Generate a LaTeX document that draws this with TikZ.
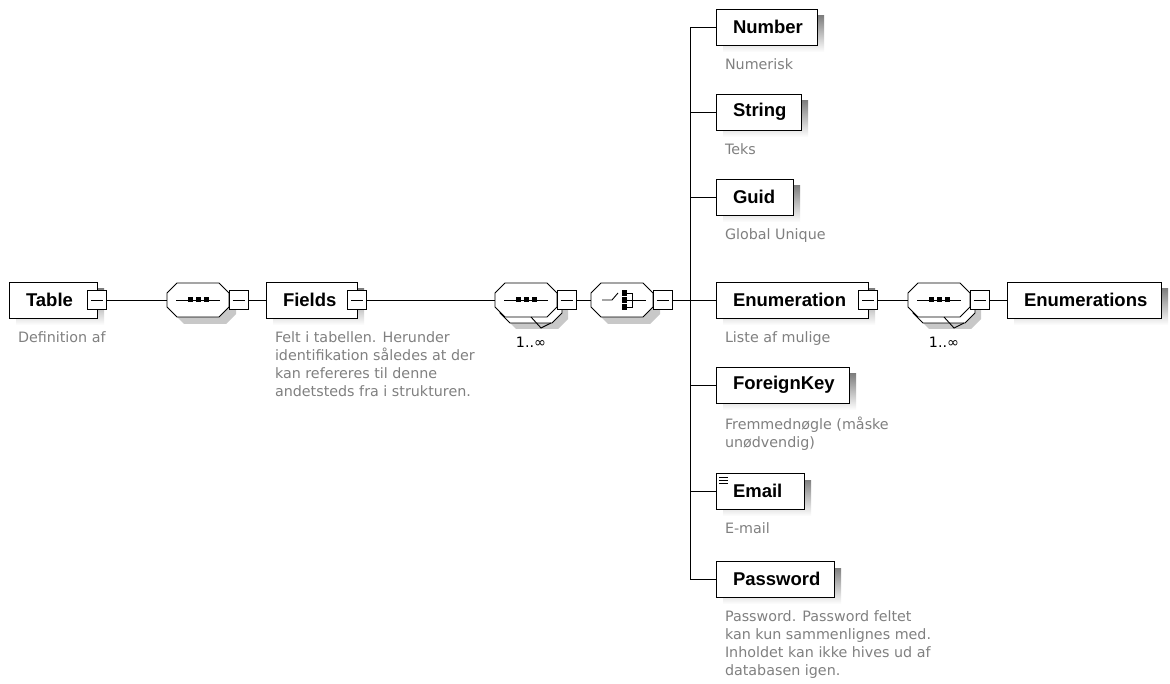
\documentclass[tikz,border=0pt]{standalone}
\usepackage{fontspec}
\newfontfamily\labelfont{Liberation Sans}
\newfontfamily\notefont{DejaVu Sans}
\definecolor{notegray}{RGB}{128,128,128}
\definecolor{shade}{RGB}{200,200,200}

% element box: node name, left x, right x, row y, label
\newcommand\xsdelement[5]{%
  \fill[shade] ({#2+7},{#4-11}) rectangle ({#3+7},{#4+25});
  \node[elembox, minimum width={#3-#2}] (#1) at ({(#2+#3)/2},#4) {};
  \node[elemtext] (#1-label) at ({#2+17},#4) {#5};
}
% octagon outline of a compositor: centre x, centre y, path options
\newcommand\xsdoct[3]{%
  \path[#3] ({#1-31},{#2-7}) -- ({#1-21},{#2-17}) -- ({#1+21},{#2-17})
    -- ({#1+31},{#2-7}) -- ({#1+31},{#2+7}) -- ({#1+21},{#2+17})
    -- ({#1-21},{#2+17}) -- ({#1-31},{#2+7}) -- cycle;
}
% sequence symbol
\newcommand\xsdseqicon[2]{%
  \draw ({#1-22},#2) -- ({#1+22},#2);
  \fill ({#1-10.5},{#2-2.5}) rectangle +(5,5);
  \fill ({#1-2.5},{#2-2.5}) rectangle +(5,5);
  \fill ({#1+5.5},{#2-2.5}) rectangle +(5,5);
}
% choice symbol
\newcommand\xsdchoiceicon[2]{%
  \draw ({#1-20},#2) -- ({#1-10},#2) -- ({#1-4},{#2-7});
  \fill ({#1-0.5},{#2-9.75}) rectangle +(5.5,5.5);
  \fill ({#1-0.5},{#2-2.75}) rectangle +(5.5,5.5);
  \fill ({#1-0.5},{#2+4.25}) rectangle +(5.5,5.5);
  \draw ({#1+5},{#2-7}) -- ({#1+10},{#2-7}) -- ({#1+10},{#2+7}) -- ({#1+5},{#2+7});
  \draw ({#1+5},#2) -- ({#1+24},#2);
}
% sequence compositor: name, centre x, centre y
\newcommand\xsdsequence[3]{%
  \xsdoct{#2+7}{#3+7}{fill=shade}
  \xsdoct{#2}{#3}{draw, fill=white}
  \node[compbox] (#1) at (#2,#3) {};
  \xsdseqicon{#2}{#3}
  \node[minusbox] (#1-m) at ({#2+40.5},#3) {};
}
% repeated sequence compositor (1..unbounded)
\newcommand\xsdrepsequence[3]{%
  \xsdoct{#2+11}{#3+12}{fill=shade}
  \xsdoct{#2+5}{#3+6}{draw, fill=white}
  \xsdoct{#2}{#3}{draw, fill=white}
  \draw ({#2+5},{#3+17}) -- ({#2+15},{#3+28}) -- ({#2+25},{#3+23});
  \node[compbox] (#1) at (#2,#3) {};
  \xsdseqicon{#2}{#3}
  \node[minusbox] (#1-m) at ({#2+40.5},#3) {};
  \node[occurs] (#1-occ) at ({#2+5},{#3+42}) {1..∞};
}
% choice compositor
\newcommand\xsdchoice[3]{%
  \xsdoct{#2+7}{#3+7}{fill=shade}
  \xsdoct{#2}{#3}{draw, fill=white}
  \node[compbox] (#1) at (#2,#3) {};
  \xsdchoiceicon{#2}{#3}
  \node[minusbox] (#1-m) at ({#2+40.5},#3) {};
}

\begin{document}
\begin{tikzpicture}[x=1pt, y=-1pt, line width=0.9pt,
  every node/.style={inner sep=0pt, outer sep=0pt},
  elembox/.style={draw, fill=white, rectangle, minimum height=36pt},
  elemtext/.style={font={\labelfont\bfseries\fontsize{18.5}{22}\selectfont}, anchor=west},
  note/.style={font={\notefont\fontsize{14.3}{18}\selectfont}, text=notegray, align=left, anchor=north west},
  occurs/.style={font={\notefont\fontsize{14.3}{18}\selectfont}},
  compbox/.style={rectangle, minimum width=62pt, minimum height=34pt},
  minusbox/.style={draw, fill=white, rectangle, minimum size=19pt,
    path picture={\draw[line width=0.9pt] ([xshift=3.5pt]path picture bounding box.west) -- ([xshift=-3.5pt]path picture bounding box.east);}},
  link/.style={draw, line width=0.9pt}]

\useasboundingbox[fill=white] (0,0) rectangle (1170,684);

% root element and its content model
\xsdelement{table}{9}{97}{300}{Table}
\node[minusbox] (table-m) at (97,300) {};
\node[note] (table-note) at ([shift={(9,14)}]table.south west) {Definition af};

\xsdsequence{seqa}{198}{300}

\xsdelement{fields}{266}{357}{300}{Fields}
\node[minusbox] (fields-m) at (357,300) {};
\node[note] (fields-note) at ([shift={(9,14)}]fields.south west)
  {Felt i tabellen. Herunder\\identifikation således at der\\kan refereres til denne\\andetsteds fra i strukturen.};

\xsdrepsequence{seqb}{526}{300}
\xsdchoice{choice}{622}{300}

% choice branches
\coordinate (bus) at (690,300);

\xsdelement{number}{716}{817}{27}{Number}
\node[note] (number-note) at ([shift={(9,14)}]number.south west) {Numerisk};

\xsdelement{string}{716}{801}{112}{String}
\node[note] (string-note) at ([shift={(9,14)}]string.south west) {Teks};

\xsdelement{guid}{716}{793}{197}{Guid}
\node[note] (guid-note) at ([shift={(9,14)}]guid.south west) {Global Unique};

\xsdelement{enumeration}{716}{868}{300}{Enumeration}
\node[minusbox] (enumeration-m) at (868,300) {};
\node[note] (enumeration-note) at ([shift={(9,14)}]enumeration.south west) {Liste af mulige};

\xsdelement{foreignkey}{716}{849}{385}{ForeignKey}
\node[note] (foreignkey-note) at ([shift={(9,14)}]foreignkey.south west) {Fremmednøgle (måske\\unødvendig)};

\xsdelement{email}{716}{804}{491}{Email}
\draw[line width=0.6pt] ([shift={(3,4)}]email.north west) -- +(9,0)
  ([shift={(3,7)}]email.north west) -- +(9,0)
  ([shift={(3,10)}]email.north west) -- +(9,0);
\node[note] (email-note) at ([shift={(9,14)}]email.south west) {E-mail};

\xsdelement{password}{716}{834}{579}{Password}
\node[note] (password-note) at ([shift={(9,14)}]password.south west)
  {Password. Password feltet\\kan kun sammenlignes med.\\Inholdet kan ikke hives ud af\\databasen igen.};

% enumeration content
\xsdrepsequence{seqc}{939}{300}
\xsdelement{enumerations}{1007}{1161}{300}{Enumerations}

% connectors
\draw[link] (table-m.east) -- (seqa.west);
\draw[link] (seqa-m.east) -- (fields.west);
\draw[link] (fields-m.east) -- (seqb.west);
\draw[link] (seqb-m.east) -- (choice.west);
\draw[link] (choice-m.east) -- (bus);
\foreach \child in {number,string,guid,enumeration,foreignkey,email,password}
  \draw[link] (bus) |- (\child.west);
\draw[link] (enumeration-m.east) -- (seqc.west);
\draw[link] (seqc-m.east) -- (enumerations.west);
\end{tikzpicture}
\end{document}
